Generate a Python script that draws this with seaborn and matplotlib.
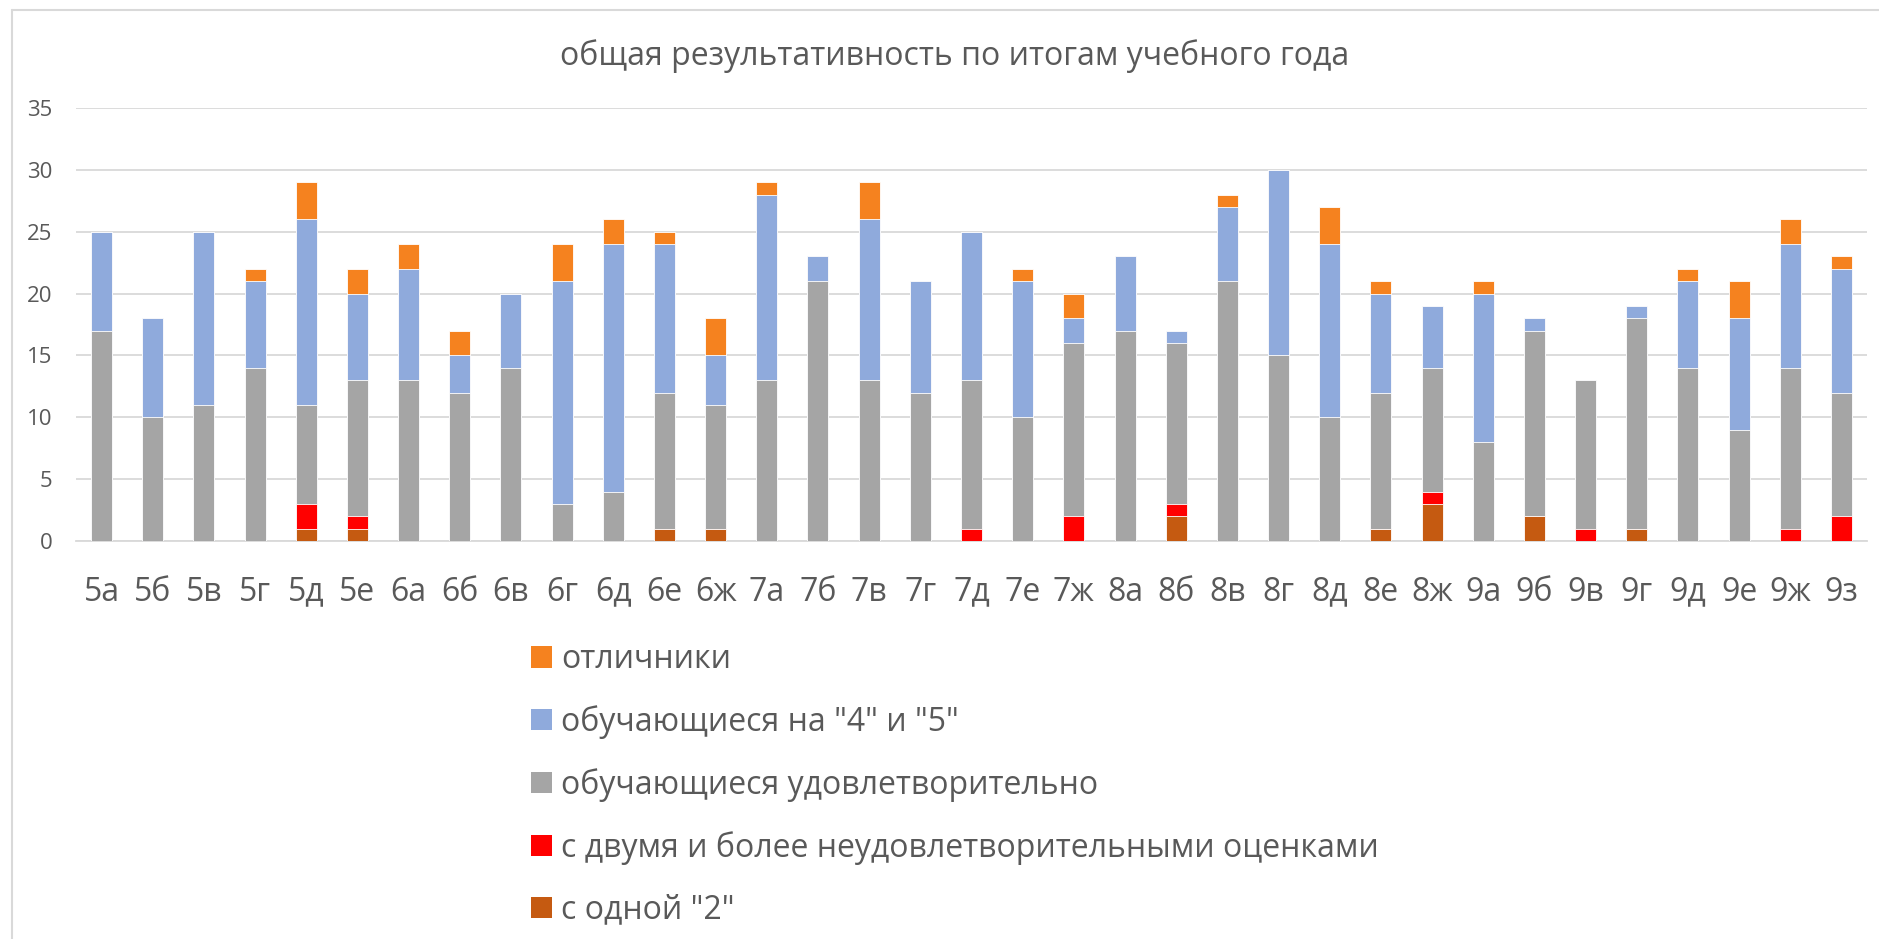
import matplotlib
matplotlib.use("Agg")
import matplotlib.pyplot as plt
import seaborn as sns
import numpy as np
import pandas as pd
from matplotlib.patches import Patch
from matplotlib.lines import Line2D

classes = ["5а", "5б", "5в", "5г", "5д", "5е", "6а", "6б", "6в", "6г", "6д", "6е", "6ж",
           "7а", "7б", "7в", "7г", "7д", "7е", "7ж", "8а", "8б", "8в", "8г", "8д", "8е", "8ж",
           "9а", "9б", "9в", "9г", "9д", "9е", "9ж", "9з"]

one_two = [0, 0, 0, 0, 1, 1, 0, 0, 0, 0, 0, 1, 1,
           0, 0, 0, 0, 0, 0, 0, 0, 2, 0, 0, 0, 1, 3,
           0, 2, 0, 1, 0, 0, 0, 0]
two_more = [0, 0, 0, 0, 2, 1, 0, 0, 0, 0, 0, 0, 0,
            0, 0, 0, 0, 1, 0, 2, 0, 1, 0, 0, 0, 0, 1,
            0, 0, 1, 0, 0, 0, 1, 2]
satisf = [17, 10, 11, 14, 8, 11, 13, 12, 14, 3, 4, 11, 10,
          13, 21, 13, 12, 12, 10, 14, 17, 13, 21, 15, 10, 11, 10,
          8, 15, 12, 17, 14, 9, 13, 10]
good = [8, 8, 14, 7, 15, 7, 9, 3, 6, 18, 20, 12, 4,
        15, 2, 13, 9, 12, 11, 2, 6, 1, 6, 15, 14, 8, 5,
        12, 1, 0, 1, 7, 9, 10, 10]
excellent = [0, 0, 0, 1, 3, 2, 2, 2, 0, 3, 2, 1, 3,
             1, 0, 3, 0, 0, 1, 2, 0, 0, 1, 0, 3, 1, 0,
             1, 0, 0, 0, 1, 3, 2, 1]

series_names = ["с одной \"2\"", "с двумя и более неудовлетворительными оценками",
                "обучающиеся удовлетворительно", "обучающиеся на \"4\" и \"5\"", "отличники"]
series_colors = ["#C55A11", "#FF0000", "#A5A5A5", "#8FAADC", "#F5821F"]

df = pd.DataFrame({"cls": classes, series_names[0]: one_two, series_names[1]: two_more,
                   series_names[2]: satisf, series_names[3]: good, series_names[4]: excellent})
cum = df[series_names].cumsum(axis=1)

sns.set_style("white")
plt.rcParams["font.family"] = ["Open Sans", "DejaVu Sans"]
text_col = "#595959"

fig = plt.figure(figsize=(18.79, 9.39), dpi=100)
ax = fig.add_axes([76 / 1879, 1 - 541 / 939, (1867 - 76) / 1879, (541 - 108) / 939])

# stacked look: draw cumulative totals from the top series down
for name, col in zip(reversed(series_names), reversed(series_colors)):
    sns.barplot(x=df["cls"], y=cum[name], color=col, saturation=1, width=0.41,
                edgecolor="white", linewidth=0.6, ax=ax, zorder=3)

ax.set_ylim(0, 35)
ax.set_yticks(np.arange(0, 36, 5))
ax.set_xlim(-0.5, len(classes) - 0.5)
ax.set_xlabel("")
ax.set_ylabel("")
ax.yaxis.grid(True, color="#d9d9d9", linewidth=1.3, zorder=0)
ax.set_axisbelow(True)
for s in ["top", "right", "left"]:
    ax.spines[s].set_visible(False)
ax.spines["bottom"].set_color("#d9d9d9")
ax.spines["bottom"].set_linewidth(1.3)
ax.tick_params(axis="x", length=0, pad=25, labelsize=23, labelcolor=text_col)
ax.tick_params(axis="y", length=0, pad=17, labelsize=16, labelcolor=text_col)

fig.text(955 / 1879, 1 - 56 / 939, "общая результативность по итогам учебного года",
         ha="center", va="center", fontsize=23, color=text_col)

handles = [Patch(facecolor=c, edgecolor="none") for c in reversed(series_colors)]
leg = fig.legend(handles, list(reversed(series_names)), loc="upper left",
                 bbox_to_anchor=(531 / 1879, 1 - 643 / 939), frameon=False,
                 fontsize=23, handlelength=0.66, handleheight=0.66, handletextpad=0.28,
                 labelspacing=0.91, borderpad=0, borderaxespad=0)
for t in leg.get_texts():
    t.set_color(text_col)

# chart area border (left and top visible)
fig.add_artist(Line2D([12 / 1879, 12 / 1879], [0, 1 - 10 / 939], color="#d9d9d9", lw=1.5))
fig.add_artist(Line2D([12 / 1879, 1], [1 - 10 / 939, 1 - 10 / 939], color="#d9d9d9", lw=1.5))

fig.savefig("out.png", dpi=100)
